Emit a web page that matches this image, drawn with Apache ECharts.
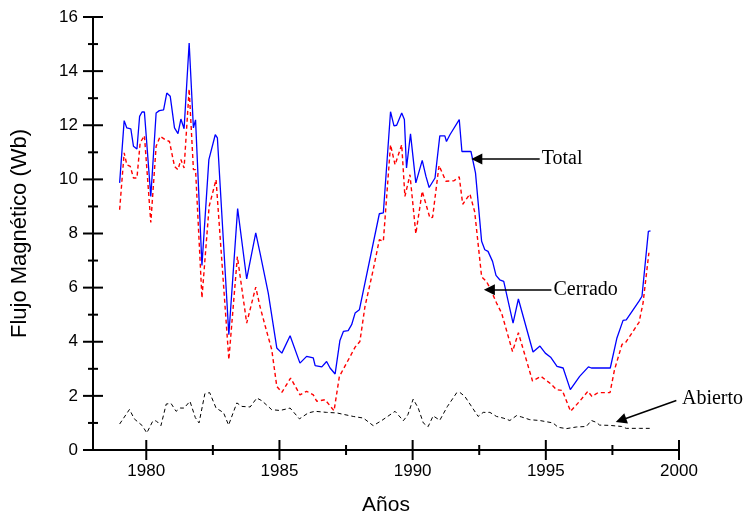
<!DOCTYPE html>
<html>
<head>
<meta charset="utf-8">
<script src="https://cdn.jsdelivr.net/npm/echarts@6/dist/echarts.min.js"></script>
<style>html,body{margin:0;padding:0;background:#fff}#c{width:746px;height:517px}</style>
</head>
<body>
<div id="c"></div>
<script>
// ---- data (year, Wb) ----
const total = [
[1979.00,9.87],[1979.17,12.17],[1979.27,11.90],[1979.42,11.87],[1979.52,11.22],[1979.65,11.12],[1979.75,12.33],[1979.84,12.49],[1979.93,12.49],
[1980.17,9.37],[1980.37,12.45],[1980.49,12.54],[1980.65,12.57],[1980.77,13.19],[1980.90,13.07],[1981.06,11.90],[1981.19,11.69],[1981.30,12.23],
[1981.42,11.87],[1981.61,15.04],[1981.77,11.90],[1981.85,12.20],[1982.09,6.82],[1982.35,10.73],[1982.59,11.65],[1982.67,11.53],[1983.10,4.26],
[1983.43,8.92],[1983.77,6.32],[1984.11,8.02],[1984.27,7.28],[1984.58,5.80],[1984.90,3.77],[1985.09,3.58],[1985.40,4.22],[1985.77,3.21],
[1986.02,3.46],[1986.27,3.40],[1986.34,3.12],[1986.59,3.07],[1986.77,3.27],[1986.90,3.03],[1987.09,2.81],[1987.27,4.05],[1987.40,4.38],
[1987.58,4.41],[1987.71,4.63],[1987.84,5.06],[1988.00,5.18],[1988.75,8.73],[1988.90,8.76],[1989.17,12.50],[1989.30,11.98],[1989.40,12.00],
[1989.59,12.45],[1989.69,12.21],[1989.77,10.42],[1989.92,11.68],[1990.12,9.87],[1990.36,10.70],[1990.50,10.11],[1990.62,9.70],[1990.84,10.05],
[1991.02,11.61],[1991.21,11.61],[1991.27,11.40],[1991.40,11.65],[1991.75,12.21],[1991.85,11.03],[1992.19,11.03],[1992.36,10.24],[1992.59,7.71],
[1992.71,7.40],[1992.83,7.34],[1993.00,6.97],[1993.13,6.45],[1993.27,6.29],[1993.42,6.23],[1993.77,4.69],[1993.97,5.58],[1994.52,3.62],
[1994.78,3.84],[1994.98,3.58],[1995.18,3.43],[1995.42,3.09],[1995.65,3.03],[1995.92,2.23],[1996.27,2.72],[1996.60,3.07],[1996.71,3.03],
[1997.42,3.03],[1997.67,4.14],[1997.90,4.79],[1998.02,4.81],[1998.50,5.50],[1998.61,5.68],[1998.85,8.08],[1998.93,8.10]
];
const cerrado = [
[1979.00,8.88],[1979.17,10.98],[1979.27,10.54],[1979.40,10.48],[1979.52,10.05],[1979.65,10.05],[1979.77,11.35],[1979.93,11.62],[1980.17,8.41],
[1980.37,11.22],[1980.52,11.59],[1980.71,11.47],[1980.87,11.40],[1981.06,10.48],[1981.19,10.36],[1981.30,10.73],[1981.42,10.42],[1981.61,13.34],
[1981.77,10.36],[1981.85,10.36],[1982.09,5.62],[1982.36,9.00],[1982.62,9.99],[1983.10,3.34],[1983.42,7.15],[1983.77,4.69],[1984.11,6.02],
[1984.27,5.30],[1984.46,4.60],[1984.71,3.71],[1984.90,2.35],[1985.09,2.13],[1985.42,2.66],[1985.77,2.04],[1986.02,2.17],[1986.27,2.04],
[1986.40,1.80],[1986.71,1.86],[1987.05,1.45],[1987.25,2.72],[1987.52,3.21],[1987.84,3.80],[1988.02,4.01],[1988.21,5.30],[1988.52,6.66],
[1988.75,7.77],[1988.90,7.71],[1989.17,11.28],[1989.34,10.54],[1989.59,11.28],[1989.71,9.37],[1989.90,10.17],[1990.12,7.99],[1990.36,9.56],
[1990.65,8.57],[1990.75,8.60],[1990.99,10.51],[1991.25,9.93],[1991.55,9.95],[1991.75,10.09],[1991.88,9.08],[1992.15,9.46],[1992.33,8.80],
[1992.59,6.40],[1992.77,6.23],[1992.90,5.99],[1993.15,5.43],[1993.34,5.06],[1993.75,3.64],[1993.97,4.33],[1994.50,2.55],[1994.82,2.72],
[1995.18,2.45],[1995.40,2.23],[1995.62,2.20],[1995.93,1.43],[1996.27,1.80],[1996.58,2.17],[1996.73,1.98],[1996.96,2.12],[1997.41,2.12],
[1997.58,2.97],[1997.86,3.90],[1998.00,3.98],[1998.50,4.72],[1998.65,5.43],[1998.87,7.29]
];
const abierto = [
[1979.00,0.96],[1979.37,1.50],[1979.55,1.15],[1979.85,0.90],[1980.02,0.63],[1980.24,1.06],[1980.37,1.08],[1980.55,0.90],[1980.75,1.70],
[1980.93,1.72],[1981.12,1.43],[1981.28,1.55],[1981.42,1.55],[1981.64,1.80],[1981.84,1.20],[1981.98,1.00],[1982.20,2.08],[1982.38,2.12],
[1982.62,1.55],[1982.90,1.38],[1983.09,0.92],[1983.40,1.74],[1983.59,1.61],[1983.90,1.59],[1984.15,1.92],[1984.34,1.82],[1984.71,1.49],
[1985.02,1.46],[1985.40,1.55],[1985.75,1.15],[1986.08,1.37],[1986.34,1.43],[1986.77,1.39],[1987.15,1.37],[1987.77,1.24],[1988.15,1.18],
[1988.52,0.90],[1988.84,1.09],[1989.34,1.43],[1989.65,1.08],[1989.82,1.30],[1990.02,1.88],[1990.21,1.55],[1990.40,1.00],[1990.58,0.86],
[1990.77,1.26],[1991.02,1.10],[1991.30,1.60],[1991.65,2.11],[1991.77,2.13],[1991.96,1.98],[1992.21,1.61],[1992.46,1.24],[1992.65,1.39],
[1992.90,1.39],[1993.15,1.24],[1993.40,1.18],[1993.65,1.09],[1993.90,1.27],[1994.09,1.22],[1994.40,1.12],[1994.77,1.09],[1995.27,1.00],
[1995.46,0.84],[1995.77,0.79],[1996.15,0.85],[1996.52,0.87],[1996.71,1.09],[1996.90,1.02],[1997.02,0.92],[1997.40,0.91],[1997.84,0.87],
[1998.02,0.80],[1998.52,0.80],[1998.90,0.80]
];
const xMajorTicks = [1980, 1985, 1990, 1995, 2000];
const xMinorTicks = [1982.5, 1987.5, 1992.5, 1997.5];
const yMajorTicks = [0, 2, 4, 6, 8, 10, 12, 14, 16];
const yMinorTicks = [1, 3, 5, 7, 9, 11, 13, 15];
// annotation arrows: [label start, arrowhead centre] in data units
const arrowTotal = [[1994.77, 10.75], [1992.41, 10.75]];
const arrowCerrado = [[1995.21, 5.92], [1992.88, 5.92]];
const arrowAbierto = [[1999.90, 1.83], [1997.82, 1.10]];

const X_MIN = 1978, X_MAX = 2000, Y_MIN = 0, Y_MAX = 16;
const sans = 'Liberation Sans, Arial, sans-serif';
const serif = 'Liberation Serif, Times New Roman, serif';

// tick marks that straddle the axis line, placed through the axis scales
function tickSeries(values, dim, half) {
  return {
    type: 'custom', silent: true, clip: false, z: 10,
    data: values.map(v => [v]),
    renderItem: (params, api) => {
      const v = api.value(0);
      if (dim === 'x') {
        const p = api.coord([v, Y_MIN]);
        return { type: 'line', shape: { x1: p[0], y1: p[1] - half, x2: p[0], y2: p[1] + half },
                 style: { stroke: '#000', lineWidth: 2 } };
      }
      const p = api.coord([X_MIN, v]);
      return { type: 'line', shape: { x1: p[0] - half, y1: p[1], x2: p[0] + half, y2: p[1] },
               style: { stroke: '#000', lineWidth: 2 } };
    }
  };
}
function arrow(coords, text, dist) {
  return {
    silent: true, animation: false,
    symbol: ['none', 'triangle'], symbolSize: 11,
    lineStyle: { color: '#000', width: 1.5, type: 'solid' },
    label: { show: true, position: 'start', formatter: text, distance: dist, color: '#000', fontFamily: serif, fontSize: 20 },
    emphasis: { disabled: true },
    data: [[{ coord: coords[0] }, { coord: coords[1] }]]
  };
}

const chart = echarts.init(document.getElementById('c'), null, { renderer: 'canvas' });
chart.setOption({
  animation: false,
  backgroundColor: '#fff',
  grid: { left: 93, right: 67, top: 17, bottom: 67, containLabel: false, outerBoundsMode: 'none' },
  xAxis: {
    type: 'value', min: X_MIN, max: X_MAX,
    axisLine: { show: true, onZero: false, lineStyle: { color: '#000', width: 2 } },
    axisTick: { show: false },
    axisLabel: { customValues: xMajorTicks, formatter: v => String(v), color: '#000', fontFamily: sans, fontSize: 17, margin: 13 },
    splitLine: { show: false },
    name: 'Años', nameLocation: 'middle', nameGap: 45,
    nameTextStyle: { color: '#000', fontFamily: sans, fontSize: 21 }
  },
  yAxis: {
    type: 'value', min: Y_MIN, max: Y_MAX,
    axisLine: { show: true, onZero: false, lineStyle: { color: '#000', width: 2 } },
    axisTick: { show: false },
    axisLabel: { customValues: yMajorTicks, formatter: v => String(v), color: '#000', fontFamily: sans, fontSize: 17, margin: 15 },
    splitLine: { show: false },
    name: 'Flujo Magnético (Wb)', nameLocation: 'middle', nameGap: 62, nameRotate: 90,
    nameTextStyle: { color: '#000', fontFamily: sans, fontSize: 22 }
  },
  series: [
    tickSeries(xMajorTicks, 'x', 10),
    tickSeries(xMinorTicks, 'x', 5),
    tickSeries(yMajorTicks, 'y', 10),
    tickSeries(yMinorTicks, 'y', 5),
    { name: 'Abierto', type: 'line', data: abierto, showSymbol: false,
      lineStyle: { color: '#000', width: 1, type: [4, 3] }, z: 2,
      markLine: arrow(arrowAbierto, 'Abierto', 6) },
    { name: 'Cerrado', type: 'line', data: cerrado, showSymbol: false,
      lineStyle: { color: '#ff0000', width: 1.4, type: [4, 3] }, z: 3,
      markLine: arrow(arrowCerrado, 'Cerrado', 2) },
    { name: 'Total', type: 'line', data: total, showSymbol: false,
      lineStyle: { color: '#0000ff', width: 1.3, type: 'solid' }, z: 4,
      markLine: arrow(arrowTotal, 'Total', 2) }
  ]
});
</script>
</body>
</html>
